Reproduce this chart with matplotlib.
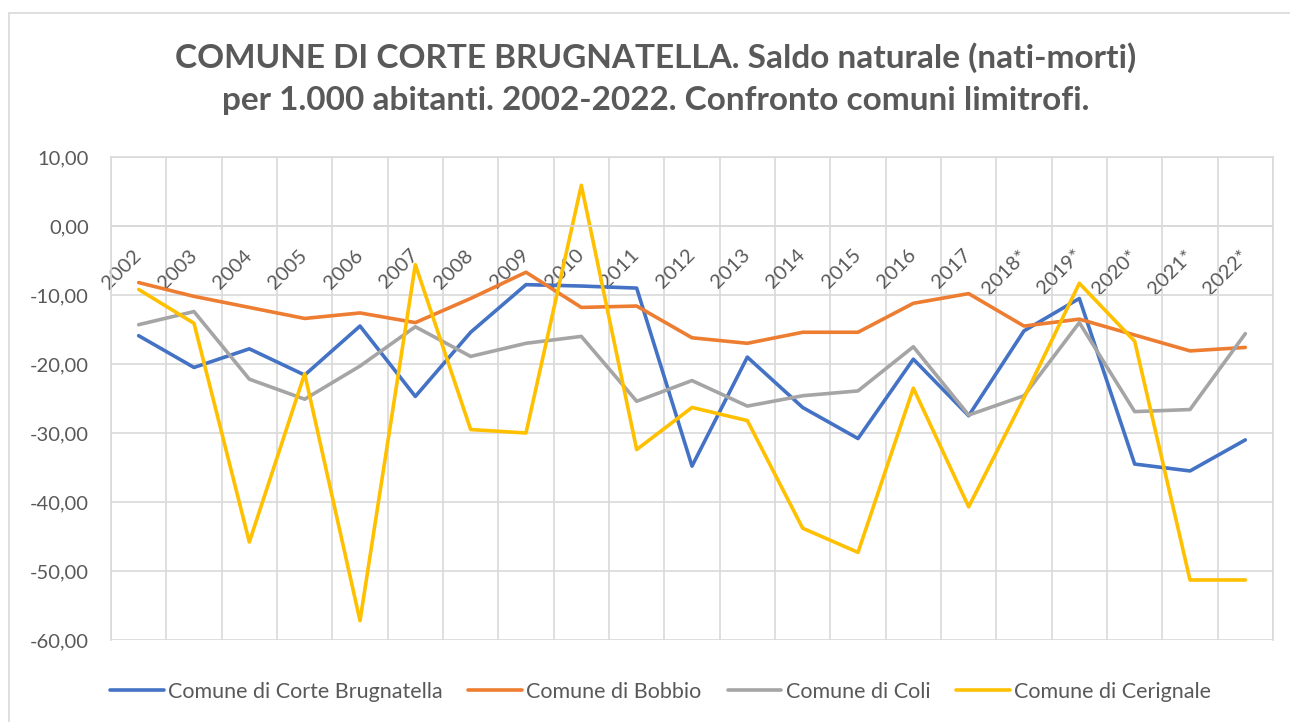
import matplotlib
matplotlib.use("Agg")
import matplotlib.pyplot as plt
from matplotlib.patches import Rectangle
from matplotlib.ticker import FixedLocator, FuncFormatter, NullFormatter

plt.rcParams["font.family"] = ["Lato", "DejaVu Sans"]

years = ["2002", "2003", "2004", "2005", "2006", "2007", "2008", "2009", "2010", "2011",
         "2012", "2013", "2014", "2015", "2016", "2017", "2018*", "2019*", "2020*", "2021*", "2022*"]

corte_brugnatella = [-15.9, -20.5, -17.8, -21.6, -14.5, -24.7, -15.4, -8.5, -8.7, -9.0,
                     -34.8, -19.0, -26.3, -30.8, -19.3, -27.5, -15.2, -10.5, -34.5, -35.5, -31.0]
bobbio = [-8.2, -10.2, -11.8, -13.4, -12.6, -14.0, -10.5, -6.7, -11.8, -11.6,
          -16.2, -17.0, -15.4, -15.4, -11.2, -9.8, -14.5, -13.5, -15.8, -18.1, -17.6]
coli = [-14.3, -12.4, -22.2, -25.1, -20.3, -14.6, -18.9, -17.0, -16.0, -25.4,
        -22.4, -26.1, -24.6, -23.9, -17.5, -27.4, -24.6, -14.0, -26.9, -26.6, -15.6]
cerignale = [-9.2, -14.1, -45.8, -21.4, -57.2, -5.6, -29.5, -30.0, 5.9, -32.4,
             -26.3, -28.2, -43.8, -47.3, -23.5, -40.7, -24.9, -8.3, -16.7, -51.3, -51.3]

series = [
    ("Comune di Corte Brugnatella", corte_brugnatella, "#4472C4"),
    ("Comune di Bobbio", bobbio, "#ED7D31"),
    ("Comune di Coli", coli, "#A5A5A5"),
    ("Comune di Cerignale", cerignale, "#FFC000"),
]

TEXT = "#595959"
GRID = "#D9D9D9"

fig = plt.figure(figsize=(12.9, 7.22), dpi=100)
ax = fig.add_axes([111 / 1290, 1 - 640 / 722, (1273 - 111) / 1290, (640 - 157) / 722])

x = list(range(len(years)))
for name, vals, color in series:
    ax.plot(x, vals, color=color, linewidth=2.6, label=name,
            solid_capstyle="round", solid_joinstyle="round")

ax.set_xlim(-0.5, len(years) - 0.5)
ax.set_ylim(-60, 10)

# category axis crosses at 0 (do this before styling ticks: it resets them)
ax.spines["bottom"].set_position(("data", 0))
for s in ax.spines.values():
    s.set_color(GRID)
    s.set_linewidth(1.2)

# vertical grid at category boundaries, labels at category centres
ax.xaxis.set_major_locator(FixedLocator([i - 0.5 for i in range(len(years) + 1)]))
ax.xaxis.set_major_formatter(NullFormatter())
ax.set_xticks(x, years, minor=True)
ax.tick_params(axis="x", which="both", length=0)
ax.tick_params(axis="x", which="minor", pad=19, labelsize=14.5, labelcolor=TEXT, labelrotation=45)
for tick in ax.xaxis.get_minor_ticks():
    tick.label1.set(rotation_mode="anchor", ha="right", va="center")

ax.set_yticks(range(-60, 11, 10))
ax.yaxis.set_major_formatter(FuncFormatter(lambda v, p: f"{v:.2f}".replace(".", ",")))
ax.tick_params(axis="y", length=0, pad=16, labelsize=14.5, labelcolor=TEXT)

ax.grid(True, which="major", color=GRID, linewidth=1.2)
ax.set_axisbelow(True)

fig.text(0.508, 1 - 68 / 722, "COMUNE DI CORTE BRUGNATELLA. Saldo naturale (nati-morti)",
         ha="center", va="baseline", fontsize=24, fontweight="bold", color=TEXT)
fig.text(0.508, 1 - 110 / 722, "per 1.000 abitanti. 2002-2022. Confronto comuni limitrofi.",
         ha="center", va="baseline", fontsize=24, fontweight="bold", color=TEXT)

leg = fig.legend(loc="center", bbox_to_anchor=(0.512, 1 - 692 / 722), ncol=4, frameon=False,
                 fontsize=15.5, handlelength=2.5, handletextpad=0.2, columnspacing=1.2)
for t in leg.get_texts():
    t.set_color(TEXT)

fig.patches.append(Rectangle((9 / 1290, -0.05), 1.1, 1.05 - 13 / 722, transform=fig.transFigure,
                             fill=False, edgecolor=GRID, linewidth=1.2, clip_on=False))

fig.savefig("out.png", dpi=100)
